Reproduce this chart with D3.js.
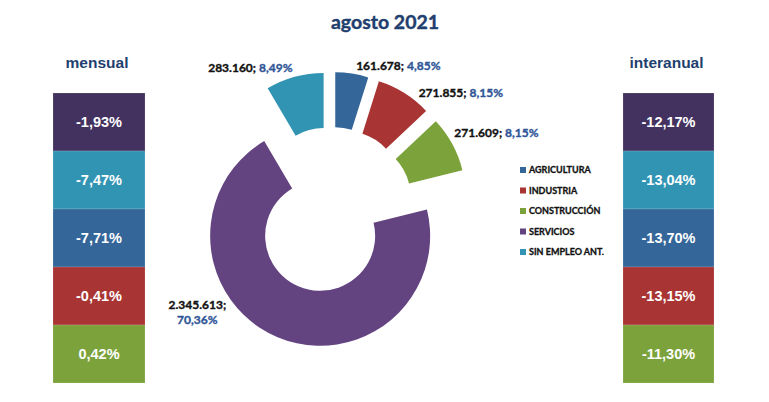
<!DOCTYPE html>
<html>
<head>
<meta charset="utf-8">
<script src="https://cdn.jsdelivr.net/npm/d3@7"></script>
<style>
  body { margin: 0; background: #fff; }
  svg { display: block; }
</style>
</head>
<body>
<main></main>
<script>
const categories = ['AGRICULTURA', 'INDUSTRIA', 'CONSTRUCCIÓN', 'SERVICIOS', 'SIN EMPLEO ANT.']
const parados = [161678, 271855, 271609, 2345613, 283160]
const shares = ['4,85%', '8,15%', '8,15%', '70,36%', '8,49%']
const valueLabels = ['161.678;', '271.855;', '271.609;', '2.345.613;', '283.160;']

const boxOrder = ['SERVICIOS', 'SIN EMPLEO ANT.', 'AGRICULTURA', 'INDUSTRIA', 'CONSTRUCCIÓN']
const mensual = ['-1,93%', '-7,47%', '-7,71%', '-0,41%', '0,42%']
const interanual = ['-12,17%', '-13,04%', '-13,70%', '-13,15%', '-11,30%']

const width = 769
const height = 402
const center = { x: 331, y: 210 }
const outerR = 110
const innerR = 55
const explode = 28

const pieColors = d3.scaleOrdinal()
  .domain(categories)
  .range(['#346699', '#a93434', '#7ca23b', '#634380', '#3294b3'])

const boxColors = d3.scaleOrdinal()
  .domain(boxOrder)
  .range(['#43325f', '#3294b3', '#346699', '#a93434', '#7ca23b'])

const titleColor = '#1f3f6e'
const pctColor = '#2f5597'
const calibri = 'Lato, "Open Sans", sans-serif'
const arial = '"Liberation Sans", Arial, sans-serif'

// Lato bold is a bit lighter than the original, thicken it a little
const heavy = (sel, w) => sel.attr('stroke', 'currentColor').attr('stroke-width', w).attr('paint-order', 'stroke')

const svg = d3.select('main')
  .append('svg')
  .attr('width', width)
  .attr('height', height)

svg.append('text')
  .attr('x', 385)
  .attr('y', 29)
  .attr('text-anchor', 'middle')
  .attr('font-family', calibri)
  .attr('font-weight', 'bold')
  .attr('font-size', 19.5)
  .attr('fill', titleColor)
  .style('color', titleColor)
  .call(heavy, 0.4)
  .text('agosto 2021')

// donut
const pie = d3.pie().sort(null).value(d => d.value)
const arcs = pie(categories.map((c, i) => ({ cat: c, value: parados[i], i })))
const arc = d3.arc().innerRadius(innerR).outerRadius(outerR)
const mid = d => (d.startAngle + d.endAngle) / 2

const slices = svg.append('g')
  .attr('transform', `translate(${center.x},${center.y})`)
  .selectAll('g')
  .data(arcs)
  .join('g')
  .attr('transform', d => `translate(${Math.sin(mid(d)) * explode},${-Math.cos(mid(d)) * explode})`)

slices.append('path')
  .attr('d', arc)
  .attr('fill', d => pieColors(d.data.cat))

// labels: radius + small nudges like the original
const labelR = 118
const nudge = { 'AGRICULTURA': [3, 0], 'INDUSTRIA': [10, 6], 'CONSTRUCCIÓN': [-5, -7], 'SIN EMPLEO ANT.': [0, -1] }

slices.filter(d => d.data.cat !== 'SERVICIOS')
  .append('text')
  .attr('x', d => Math.sin(mid(d)) * labelR + nudge[d.data.cat][0])
  .attr('y', d => -Math.cos(mid(d)) * labelR + nudge[d.data.cat][1])
  .attr('dy', '0.35em')
  .attr('text-anchor', d => Math.sin(mid(d)) >= 0 ? 'start' : 'end')
  .attr('font-family', calibri)
  .attr('font-weight', 'bold')
  .attr('font-size', 12)
  .call(t => t.append('tspan').attr('fill', '#111').style('color', '#111').call(heavy, 0.35)
    .text(d => valueLabels[d.data.i] + ' '))
  .call(t => t.append('tspan').attr('fill', pctColor).style('color', pctColor).call(heavy, 0.35)
    .text(d => shares[d.data.i]))

const bigLabel = slices.filter(d => d.data.cat === 'SERVICIOS')
  .append('text')
  .attr('transform', () => {
    const a = 231 * Math.PI / 180
    return `translate(${Math.sin(a) * 122 - 28},${-Math.cos(a) * 122})`
  })
  .attr('text-anchor', 'middle')
  .attr('font-family', calibri)
  .attr('font-weight', 'bold')
  .attr('font-size', 12)

bigLabel.append('tspan').attr('x', 0).attr('y', -7.5).attr('dy', '0.35em')
  .attr('fill', '#111').style('color', '#111').call(heavy, 0.35)
  .text(d => valueLabels[d.data.i])
bigLabel.append('tspan').attr('x', 0).attr('y', 7.5).attr('dy', '0.35em')
  .attr('fill', pctColor).style('color', pctColor).call(heavy, 0.35)
  .text(d => shares[d.data.i])

// legend
const legendY = d3.scalePoint().domain(categories).range([170, 252])
const legend = svg.append('g')
  .selectAll('g')
  .data(categories)
  .join('g')
  .attr('transform', d => `translate(520,${legendY(d)})`)

legend.append('rect')
  .attr('x', 0).attr('y', -3)
  .attr('width', 6).attr('height', 6)
  .attr('fill', d => pieColors(d))

legend.append('text')
  .attr('x', 9)
  .attr('dy', '0.35em')
  .attr('font-family', calibri)
  .attr('font-weight', 'bold')
  .attr('font-size', 9)
  .attr('fill', '#111')
  .style('color', '#111')
  .call(heavy, 0.3)
  .text(d => d)

// side boxes
const boxY = d3.scaleBand().domain(boxOrder).range([93, 383])

const drawColumn = (x0, w, title, values) => {
  svg.append('text')
    .attr('x', x0 + w / 2 - 2)
    .attr('y', 68)
    .attr('text-anchor', 'middle')
    .attr('font-family', arial)
    .attr('font-weight', 'bold')
    .attr('font-size', 15.5)
    .attr('fill', titleColor)
    .text(title)

  const g = svg.append('g')
    .selectAll('g')
    .data(boxOrder)
    .join('g')
    .attr('transform', d => `translate(${x0},${boxY(d)})`)

  g.append('rect')
    .attr('width', w)
    .attr('height', boxY.bandwidth())
    .attr('fill', d => boxColors(d))
    .attr('stroke', 'rgba(255,255,255,0.25)')
    .attr('stroke-width', 0.6)

  g.append('text')
    .attr('x', w / 2)
    .attr('y', boxY.bandwidth() / 2)
    .attr('dy', '0.35em')
    .attr('text-anchor', 'middle')
    .attr('font-family', arial)
    .attr('font-weight', 'bold')
    .attr('font-size', 14.5)
    .attr('fill', '#fff')
    .text((d, i) => values[i])
}

drawColumn(53, 92, 'mensual', mensual)
drawColumn(623, 91, 'interanual', interanual)
</script>
</body>
</html>
